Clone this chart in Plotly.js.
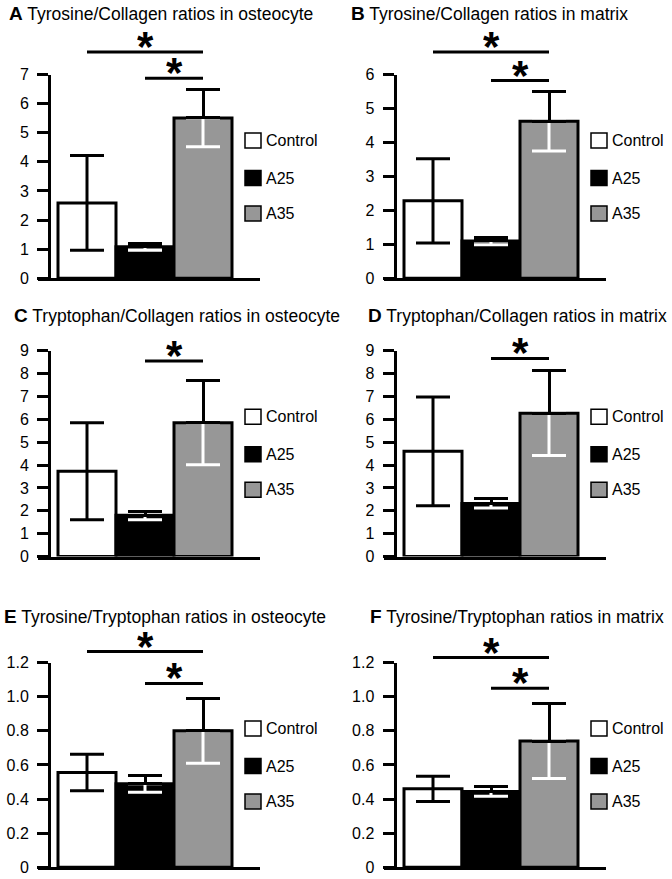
<!DOCTYPE html>
<html><head><meta charset="utf-8">
<script src="https://cdn.plot.ly/plotly-3.0.1.min.js"></script>
<style>html,body{margin:0;padding:0;background:#fff}#chart{width:672px;height:879px}</style>
</head><body><div id="chart"></div>
<script>
// ---------------- DATA ----------------
const categories = ['Control', 'A25', 'A35'];
const panelLetters = ['A', 'B', 'C', 'D', 'E', 'F'];
const panelTitles = [
  'Tyrosine/Collagen ratios in osteocyte',
  'Tyrosine/Collagen ratios in matrix',
  'Tryptophan/Collagen ratios in osteocyte',
  'Tryptophan/Collagen ratios in matrix',
  'Tyrosine/Tryptophan ratios in osteocyte',
  'Tyrosine/Tryptophan ratios in matrix'
];

const meanA = [2.59, 1.08, 5.51];  const errA = [1.63, 0.12, 0.99];
const meanB = [2.28, 1.10, 4.62];  const errB = [1.24, 0.11, 0.87];
const meanC = [3.73, 1.80, 5.85];  const errC = [2.12, 0.19, 1.84];
const meanD = [4.60, 2.32, 6.27];  const errD = [2.38, 0.20, 1.85];
const meanE = [0.555, 0.490, 0.80]; const errE = [0.107, 0.05, 0.19];
const meanF = [0.46, 0.444, 0.74];  const errF = [0.074, 0.027, 0.22];

// significance comparisons (from, to, bar height)
const sigFromA = ['Control', 'A25']; const sigToA = ['A35', 'A35']; const sigLevelA = [7.77, 6.87];
const sigFromB = ['Control', 'A25']; const sigToB = ['A35', 'A35']; const sigLevelB = [6.66, 5.82];
const sigFromC = ['A25'];            const sigToC = ['A35'];        const sigLevelC = [8.55];
const sigFromD = ['A25'];            const sigToD = ['A35'];        const sigLevelD = [8.66];
const sigFromE = ['Control', 'A25']; const sigToE = ['A35', 'A35']; const sigLevelE = [1.264, 1.077];
const sigFromF = ['Control', 'A25']; const sigToF = ['A35', 'A35']; const sigLevelF = [1.229, 1.049];

const yTicksTyrOst = [0, 1, 2, 3, 4, 5, 6, 7];
const yTicksTyrMat = [0, 1, 2, 3, 4, 5, 6];
const yTicksTrp = [0, 1, 2, 3, 4, 5, 6, 7, 8, 9];
const yTicksRatio = [0, 0.2, 0.4, 0.6, 0.8, 1.0, 1.2];
const yTickTextRatio = ['0', '0.2', '0.4', '0.6', '0.8', '1.0', '1.2'];

// ---------------- STYLE / GEOMETRY ----------------
const W = 672, H = 879;
const FONT = 'Liberation Sans, Arial, sans-serif';
const barFill = ['#ffffff', '#000000', '#979797'];
const cols = [{x0: 38, x1: 260, yAx: 49}, {x0: 384, x1: 606, yAx: 394.5}];
const rows = [{top: 74.5, bot: 278.3}, {top: 350.7, bot: 556.5}, {top: 662.5, bot: 867.3}];
const titlePos = [[7, 13], [349, 14], [12, 316], [366, 316], [2, 616], [368, 616]];
const catPx = 58, firstCenterOffset = 49, headroomPx = 60;

const panels = [
  {mean: meanA, err: errA, from: sigFromA, to: sigToA, lvl: sigLevelA, ymax: 7, tv: yTicksTyrOst, tt: null},
  {mean: meanB, err: errB, from: sigFromB, to: sigToB, lvl: sigLevelB, ymax: 6, tv: yTicksTyrMat, tt: null},
  {mean: meanC, err: errC, from: sigFromC, to: sigToC, lvl: sigLevelC, ymax: 9, tv: yTicksTrp, tt: null},
  {mean: meanD, err: errD, from: sigFromD, to: sigToD, lvl: sigLevelD, ymax: 9, tv: yTicksTrp, tt: null},
  {mean: meanE, err: errE, from: sigFromE, to: sigToE, lvl: sigLevelE, ymax: 1.2, tv: yTicksRatio, tt: yTickTextRatio},
  {mean: meanF, err: errF, from: sigFromF, to: sigToF, lvl: sigLevelF, ymax: 1.2, tv: yTicksRatio, tt: yTickTextRatio}
];

const px2x = p => p / W;
const px2y = p => 1 - p / H;

const data = [];
const layout = {
  width: W, height: H,
  margin: {l: 0, r: 0, t: 0, b: 0},
  paper_bgcolor: '#fff', plot_bgcolor: 'rgba(0,0,0,0)',
  showlegend: false,
  barmode: 'overlay', bargap: 0,
  font: {family: FONT, color: '#000'},
  annotations: [], shapes: []
};

panels.forEach((p, i) => {
  const n = i === 0 ? '' : String(i + 1);
  const m = String(i + 7);            // helper axes for the significance brackets
  const xa = 'x' + n, ya = 'y' + n, xh = 'x' + m, yh = 'y' + m;
  const col = cols[i % 2], row = rows[Math.floor(i / 2)];
  const span = col.x1 - col.x0;
  const rLeft = -firstCenterOffset / catPx;
  const rRight = rLeft + span / catPx;

  const xCommon = {
    domain: [px2x(col.x0), px2x(col.x1)], range: [rLeft, rRight],
    type: 'category', categoryorder: 'array', categoryarray: categories,
    ticks: '', showticklabels: false, showgrid: false, zeroline: false, fixedrange: true
  };
  layout['xaxis' + n] = Object.assign({}, xCommon, {anchor: ya, showline: true, linewidth: 3, linecolor: '#000'});
  layout['xaxis' + m] = Object.assign({}, xCommon, {anchor: yh, showline: false, visible: false});

  const yax = {
    domain: [px2y(row.bot), px2y(row.top)], range: [0, p.ymax],
    anchor: 'free', position: px2x(col.yAx),
    showline: true, linewidth: 3, linecolor: '#000',
    ticks: 'outside', ticklen: 11, tickwidth: 3, tickcolor: '#000',
    tickmode: 'array', tickvals: p.tv,
    tickfont: {size: 16, color: '#000', family: FONT},
    ticklabelstandoff: 5,
    showgrid: false, zeroline: false, fixedrange: true
  };
  if (p.tt) yax.ticktext = p.tt;
  layout['yaxis' + n] = yax;
  // taller invisible axis with the same units, so brackets can sit above the plotted range
  const extTop = row.top - headroomPx;
  layout['yaxis' + m] = {
    domain: [px2y(row.bot), px2y(extTop)],
    range: [0, p.ymax * (row.bot - extTop) / (row.bot - row.top)],
    anchor: xh, visible: false, showgrid: false, zeroline: false, fixedrange: true
  };

  const eb = (up, down, color) => ({type: 'data', symmetric: false, array: [up], arrayminus: [down],
                                     color: color, thickness: 3, width: 17, visible: true});
  categories.forEach((c, k) => {
    const lowerColor = k === 0 ? '#000' : '#fff';
    data.push({type: 'bar', x: [c], y: [p.mean[k]], xaxis: xa, yaxis: ya, width: 1,
      marker: {color: barFill[k], line: {color: '#000', width: 3}},
      error_y: eb(k === 0 ? p.err[k] : 0, p.err[k], lowerColor),
      hoverinfo: 'skip', name: c});
    if (k !== 0) {
      data.push({type: 'bar', x: [c], y: [p.mean[k]], xaxis: xa, yaxis: ya, width: 1,
        marker: {color: 'rgba(0,0,0,0)', line: {width: 0}},
        error_y: eb(p.err[k], 0, '#000'), hoverinfo: 'skip', name: c + ' upper'});
    }
  });

  p.lvl.forEach((lv, j) => {
    data.push({type: 'scatter', mode: 'lines', x: [p.from[j], p.to[j]], y: [lv, lv],
      xaxis: xh, yaxis: yh, cliponaxis: false, line: {color: '#000', width: 3}, hoverinfo: 'skip'});
    const mid = (categories.indexOf(p.from[j]) + categories.indexOf(p.to[j])) / 2;
    layout.annotations.push({xref: xh, yref: yh, x: mid, y: lv, text: '<b>*</b>', showarrow: false,
      xanchor: 'center', yanchor: 'middle', valign: 'middle', height: 34, yshift: 6,
      font: {family: 'Liberation Sans, Arial', size: 42, color: '#000'}});
  });

  const legOffsets = [66, 103.5, 139];
  categories.forEach((c, k) => {
    const cy = row.top + legOffsets[k];
    layout.shapes.push({type: 'rect', xref: 'paper', yref: 'paper',
      x0: px2x(col.x1 - 15), x1: px2x(col.x1 + 1), y0: px2y(cy + 7.5), y1: px2y(cy - 7.5),
      fillcolor: barFill[k], line: {color: '#000', width: 1.5}});
    layout.annotations.push({xref: 'paper', yref: 'paper', x: px2x(col.x1 + 4), y: px2y(cy),
      xanchor: 'left', yanchor: 'middle', text: c, showarrow: false,
      font: {size: 16, color: '#000', family: FONT}});
  });

  layout.annotations.push({xref: 'paper', yref: 'paper', x: px2x(titlePos[i][0]), y: px2y(titlePos[i][1]),
    xanchor: 'left', yanchor: 'middle', showarrow: false,
    text: '<b><span style="font-size:19px">' + panelLetters[i] + '</span></b> ' + panelTitles[i],
    font: {size: 17.5, color: '#000', family: FONT}});
});

Plotly.newPlot('chart', data, layout, {staticPlot: true, displayModeBar: false});
</script>
</body></html>
